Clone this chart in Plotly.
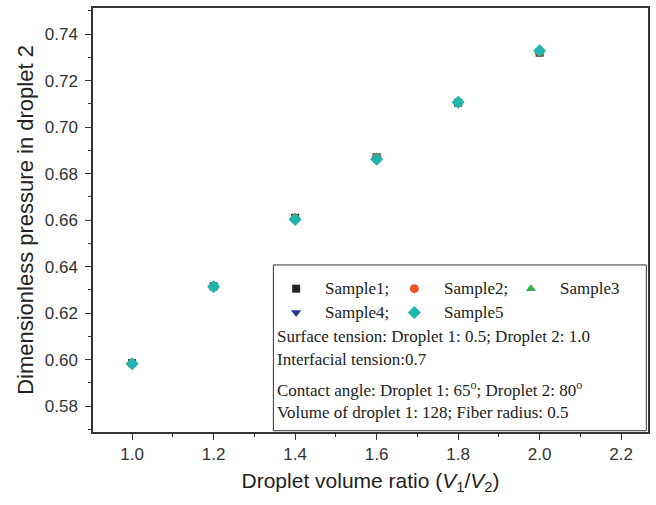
import plotly.graph_objects as go

ratio = [1.0, 1.2, 1.4, 1.6, 1.8, 2.0]
sample1 = [0.5985, 0.6315, 0.6610, 0.6870, 0.7105, 0.7320]
sample2 = [0.5983, 0.6313, 0.6608, 0.6868, 0.7105, 0.7322]
sample3 = [0.5985, 0.6316, 0.6612, 0.6872, 0.7108, 0.7325]
sample4 = [0.5980, 0.6312, 0.6603, 0.6863, 0.7102, 0.7318]
sample5 = [0.5982, 0.6313, 0.6603, 0.6862, 0.7107, 0.7328]

names = ["Sample1;", "Sample2;", "Sample3", "Sample4;", "Sample5"]
series = [sample1, sample2, sample3, sample4, sample5]
symbols = ["square", "circle", "triangle-up", "triangle-down", "diamond"]
colors = ["#222222", "#f0522a", "#2db34a", "#2b3590", "#1fb5ad"]
sizes = [8, 9, 9, 9, 10]

# legend layout positions (fractions of plot area)
leg_x = [0.366, 0.579, 0.789, 0.366, 0.579]
leg_y = [0.338, 0.338, 0.338, 0.282, 0.282]

info_lines = [
    "Surface tension: Droplet 1: 0.5; Droplet 2: 1.0",
    "Interfacial tension:0.7",
    "Contact angle: Droplet 1: 65<sup>o</sup>; Droplet 2: 80<sup>o</sup>",
    "Volume of droplet 1: 128; Fiber radius: 0.5",
]
info_y = [0.225, 0.171, 0.101, 0.047]

serif = dict(family="Liberation Serif", size=17, color="#222")

fig = go.Figure()
for n, s, sym, c, sz in zip(names, series, symbols, colors, sizes):
    fig.add_trace(go.Scatter(x=ratio, y=s, mode="markers", name=n,
                             marker=dict(symbol=sym, color=c, size=sz),
                             showlegend=False))

for i, (n, sym, c, sz) in enumerate(zip(names, symbols, colors, sizes)):
    fig.add_trace(go.Scatter(x=[leg_x[i]], y=[leg_y[i]], mode="markers",
                             marker=dict(symbol=sym, color=c, size=sz),
                             xaxis="x2", yaxis="y2", showlegend=False,
                             hoverinfo="skip"))
    fig.add_annotation(x=leg_x[i] + 0.049, y=leg_y[i], xref="x2", yref="y2",
                       text=n, showarrow=False, xanchor="left", yanchor="middle",
                       font=serif)

for t, yy in zip(info_lines, info_y):
    fig.add_annotation(x=0.328, y=yy, xref="x2", yref="y2", text=t,
                       showarrow=False, xanchor="left", yanchor="middle",
                       font=serif)

fig.add_shape(type="rect", xref="x2", yref="y2", x0=0.325, x1=0.997, y0=0.003, y1=0.394,
              line=dict(color="#333", width=1), fillcolor="rgba(0,0,0,0)")

axis_common = dict(showline=True, linecolor="#333", linewidth=1.5, mirror=True,
                   ticks="outside", ticklen=6, tickwidth=1.3, tickcolor="#333",
                   showgrid=False, zeroline=False,
                   tickfont=dict(family="Liberation Sans", size=17, color="#333"))

fig.update_layout(
    width=656, height=505,
    margin=dict(l=93, r=8, t=6, b=73),
    plot_bgcolor="white", paper_bgcolor="white",
    xaxis=dict(range=[0.904, 2.266], dtick=0.2, tick0=1.0, tickformat=".1f",
               minor=dict(dtick=0.1, ticks="outside", ticklen=3, tickcolor="#333", tickwidth=1.2),
               title=dict(text="Droplet volume ratio (<i>V</i><sub>1</sub>/<i>V</i><sub>2</sub>)",
                          font=dict(family="Liberation Sans", size=21, color="#222"), standoff=10),
               **axis_common),
    yaxis=dict(range=[0.5689, 0.7512], dtick=0.02, tick0=0.58, tickformat=".2f",
               ticklabelstandoff=4,
               minor=dict(dtick=0.01, ticks="outside", ticklen=3, tickcolor="#333", tickwidth=1.2),
               title=dict(text="Dimensionless pressure in droplet 2",
                          font=dict(family="Liberation Sans", size=22, color="#222"), standoff=5),
               **axis_common),
    xaxis2=dict(range=[0, 1], overlaying="x", visible=False, fixedrange=True),
    yaxis2=dict(range=[0, 1], overlaying="y", visible=False, fixedrange=True),
)

fig.write_html("out.html")
